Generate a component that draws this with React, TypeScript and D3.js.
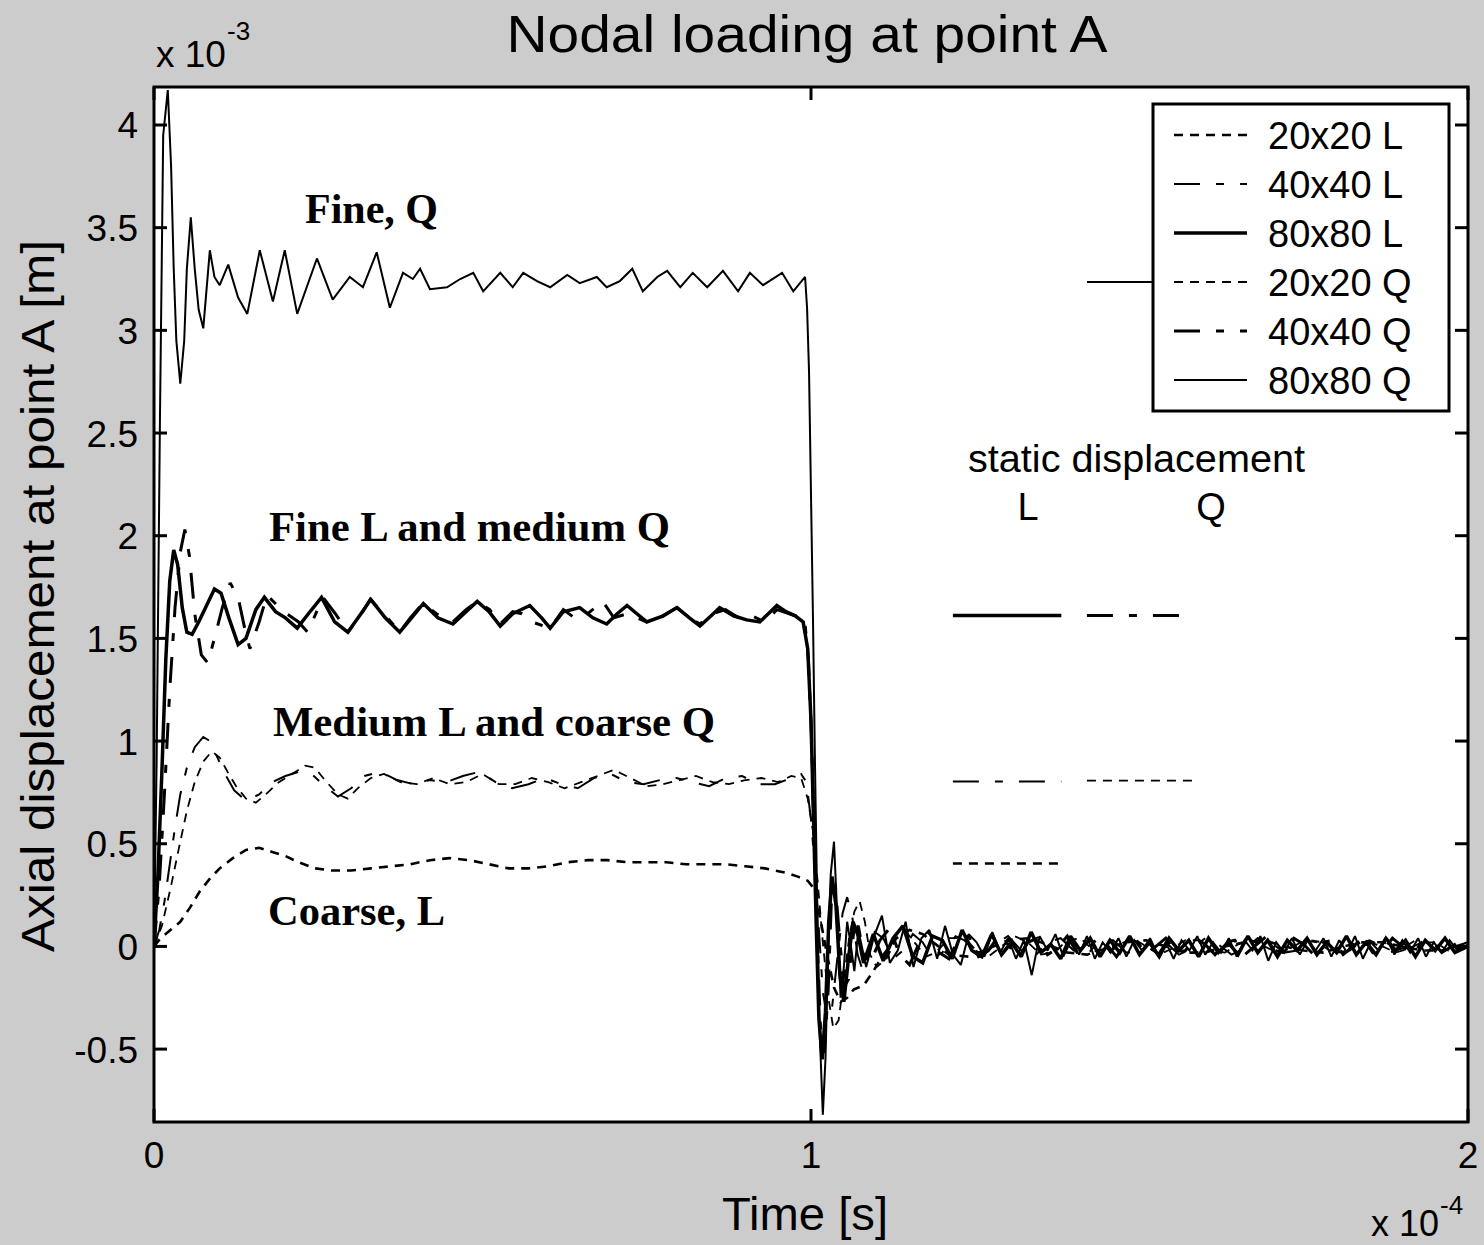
import React from "react";
import * as d3 from "d3";

type Pt = [number, number];

// ---------------- DATA ----------------
const X_DOMAIN: [number, number] = [0, 2];
const Y_DOMAIN: [number, number] = [-0.855, 4.185];
const X_TICKS = [0, 1, 2];
const X_TICK_LABELS = ["0", "1", "2"];
const Y_TICKS = [-0.5, 0, 0.5, 1, 1.5, 2, 2.5, 3, 3.5, 4];
const Y_TICK_LABELS = ["-0.5", "0", "0.5", "1", "1.5", "2", "2.5", "3", "3.5", "4"];

const SERIES_NAMES = ["20x20 L", "40x40 L", "80x80 L", "20x20 Q", "40x40 Q", "80x80 Q"];

const coarseL: Pt[] = [
  [0, 0], [0.01, 0.04], [0.025, 0.08], [0.04, 0.12], [0.055, 0.19], [0.07, 0.27], [0.085, 0.33], [0.1, 0.38],
  [0.12, 0.43], [0.14, 0.47], [0.16, 0.48], [0.18, 0.46], [0.2, 0.44], [0.22, 0.41], [0.245, 0.38], [0.27, 0.37],
  [0.3, 0.37], [0.33, 0.38], [0.36, 0.39], [0.39, 0.4], [0.42, 0.42], [0.45, 0.43], [0.48, 0.42], [0.51, 0.4],
  [0.54, 0.38], [0.57, 0.38], [0.6, 0.39], [0.63, 0.41], [0.66, 0.42], [0.69, 0.42], [0.72, 0.41], [0.75, 0.41],
  [0.78, 0.41], [0.81, 0.4], [0.84, 0.4], [0.87, 0.4], [0.9, 0.39], [0.93, 0.38], [0.96, 0.36], [0.98, 0.34],
  [0.995, 0.32], [1.005, 0.28], [1.015, 0.12], [1.025, -0.05], [1.035, -0.2], [1.045, -0.27], [1.055, -0.25],
  [1.065, -0.21], [1.08, -0.19], [1.095, -0.12], [1.11, -0.04], [1.13, 0.04], [1.15, 0.08], [1.17, 0.06],
  [1.19, 0.01], [1.21, -0.04], [1.24, -0.05], [1.27, -0.01], [1.3, 0.03], [1.33, 0.04], [1.36, 0.01],
  [1.39, -0.03], [1.42, -0.04], [1.45, -0.01], [1.48, 0.02], [1.51, 0.03], [1.54, 0.0], [1.57, -0.03],
  [1.6, -0.03], [1.63, 0.0], [1.66, 0.02], [1.69, 0.03], [1.72, 0.0], [1.75, -0.02], [1.78, -0.03], [1.81, 0.0],
  [1.84, 0.02], [1.87, 0.02], [1.9, 0.0], [1.93, -0.02], [1.96, -0.02], [2.0, 0.01],
];

const mediumL: Pt[] = [
  [0, 0], [0.008, 0.08], [0.016, 0.22], [0.024, 0.4], [0.032, 0.58], [0.04, 0.74], [0.05, 0.87], [0.062, 0.97],
  [0.075, 1.02], [0.085, 1.0], [0.095, 0.93], [0.108, 0.84], [0.122, 0.76], [0.14, 0.71], [0.16, 0.74], [0.18, 0.8],
  [0.2, 0.83], [0.22, 0.85], [0.24, 0.84], [0.26, 0.78], [0.28, 0.73], [0.3, 0.77], [0.32, 0.83], [0.345, 0.85],
  [0.37, 0.81], [0.395, 0.79], [0.42, 0.81], [0.445, 0.8], [0.47, 0.83], [0.495, 0.85], [0.52, 0.8], [0.545, 0.77],
  [0.57, 0.79], [0.595, 0.82], [0.62, 0.79], [0.645, 0.77], [0.67, 0.82], [0.695, 0.84], [0.72, 0.8], [0.745, 0.79],
  [0.77, 0.81], [0.795, 0.82], [0.82, 0.8], [0.845, 0.78], [0.87, 0.82], [0.895, 0.83], [0.92, 0.79], [0.945, 0.79],
  [0.97, 0.82], [0.985, 0.84], [0.993, 0.8], [1.0, 0.62], [1.006, 0.38], [1.012, 0.08], [1.018, -0.22],
  [1.025, -0.36], [1.032, -0.3], [1.04, -0.06], [1.048, 0.16], [1.055, 0.24], [1.063, 0.14], [1.071, -0.04],
  [1.079, -0.12], [1.088, -0.04], [1.097, 0.07], [1.11, 0.04], [1.125, -0.06], [1.14, -0.02], [1.155, 0.06],
  [1.17, 0.02], [1.185, -0.06], [1.2, -0.03], [1.22, 0.05], [1.24, 0.02], [1.26, -0.05], [1.28, 0.01], [1.3, 0.05],
  [1.32, -0.02], [1.34, -0.05], [1.36, 0.02], [1.38, 0.04], [1.4, -0.02], [1.42, -0.04], [1.44, 0.03], [1.46, 0.03],
  [1.48, -0.03], [1.5, -0.03], [1.52, 0.03], [1.54, 0.02], [1.56, -0.04], [1.58, -0.01], [1.6, 0.04], [1.62, 0.01],
  [1.64, -0.04], [1.66, -0.01], [1.68, 0.04], [1.7, 0.02], [1.72, -0.03], [1.74, -0.02], [1.76, 0.03], [1.78, 0.02],
  [1.8, -0.03], [1.82, -0.02], [1.84, 0.03], [1.86, 0.01], [1.88, -0.03], [1.9, -0.01], [1.92, 0.03], [1.94, 0.01],
  [1.96, -0.03], [1.98, 0.0], [2.0, 0.02],
];

const fineL: Pt[] = [
  [0, 0], [0.006, 0.35], [0.012, 0.85], [0.018, 1.4], [0.024, 1.78], [0.03, 1.93], [0.036, 1.86], [0.043, 1.65],
  [0.05, 1.53], [0.058, 1.52], [0.068, 1.58], [0.08, 1.66], [0.092, 1.74], [0.102, 1.72], [0.114, 1.6],
  [0.128, 1.47], [0.14, 1.5], [0.155, 1.64], [0.168, 1.7], [0.185, 1.63], [0.2, 1.6], [0.218, 1.55], [0.235, 1.62],
  [0.255, 1.7], [0.275, 1.58], [0.295, 1.53], [0.315, 1.62], [0.33, 1.69], [0.352, 1.6], [0.374, 1.53], [0.392, 1.6],
  [0.41, 1.67], [0.432, 1.6], [0.455, 1.57], [0.475, 1.63], [0.492, 1.68], [0.51, 1.63], [0.527, 1.56], [0.546, 1.62],
  [0.572, 1.66], [0.59, 1.6], [0.603, 1.55], [0.623, 1.63], [0.648, 1.65], [0.668, 1.6], [0.689, 1.57], [0.705, 1.62],
  [0.72, 1.66], [0.735, 1.62], [0.75, 1.58], [0.775, 1.61], [0.796, 1.65], [0.815, 1.6], [0.831, 1.56], [0.848, 1.61],
  [0.861, 1.65], [0.882, 1.61], [0.902, 1.59], [0.922, 1.58], [0.935, 1.62], [0.948, 1.66], [0.962, 1.63],
  [0.976, 1.61], [0.988, 1.58], [0.995, 1.45], [1.0, 1.1], [1.004, 0.6], [1.008, 0.1], [1.012, -0.35],
  [1.017, -0.55], [1.022, -0.32], [1.027, 0.12], [1.032, 0.34], [1.038, 0.2], [1.044, -0.14], [1.05, -0.27],
  [1.057, -0.06], [1.064, 0.12], [1.072, 0.05], [1.08, -0.08], [1.095, 0.06], [1.11, -0.07], [1.125, 0.04],
  [1.14, 0.1], [1.155, -0.05], [1.17, -0.08], [1.185, 0.05], [1.2, 0.03], [1.215, -0.06], [1.23, 0.08],
  [1.245, -0.02], [1.26, -0.05], [1.275, 0.06], [1.29, -0.04], [1.305, 0.02], [1.32, -0.05], [1.335, 0.07],
  [1.35, -0.03], [1.365, 0.01], [1.38, -0.06], [1.395, 0.05], [1.41, -0.02], [1.425, 0.04], [1.44, -0.05],
  [1.455, 0.03], [1.47, -0.03], [1.485, 0.05], [1.5, -0.04], [1.515, 0.02], [1.53, -0.05], [1.545, 0.04],
  [1.56, -0.02], [1.575, 0.03], [1.59, -0.05], [1.605, 0.04], [1.62, -0.03], [1.635, 0.02], [1.65, -0.04],
  [1.665, 0.05], [1.68, -0.03], [1.695, 0.03], [1.71, -0.05], [1.725, 0.03], [1.74, -0.02], [1.755, 0.04],
  [1.77, -0.04], [1.785, 0.02], [1.8, -0.03], [1.815, 0.05], [1.83, -0.04], [1.845, 0.02], [1.86, -0.04],
  [1.875, 0.04], [1.89, -0.02], [1.905, 0.03], [1.92, -0.05], [1.935, 0.03], [1.95, -0.02], [1.965, 0.04],
  [1.98, -0.03], [2.0, 0.0],
];

const coarseQ: Pt[] = [
  [0, 0], [0.012, 0.1], [0.025, 0.28], [0.038, 0.48], [0.05, 0.66], [0.062, 0.8], [0.075, 0.9], [0.088, 0.95],
  [0.1, 0.92], [0.112, 0.85], [0.125, 0.78], [0.14, 0.72], [0.155, 0.7], [0.17, 0.74], [0.19, 0.8], [0.21, 0.84],
  [0.23, 0.88], [0.245, 0.87], [0.26, 0.81], [0.28, 0.74], [0.295, 0.72], [0.31, 0.77], [0.33, 0.82], [0.35, 0.84],
  [0.375, 0.8], [0.4, 0.79], [0.425, 0.82], [0.45, 0.79], [0.475, 0.8], [0.5, 0.84], [0.525, 0.79], [0.55, 0.79],
  [0.575, 0.82], [0.6, 0.8], [0.625, 0.77], [0.65, 0.8], [0.675, 0.83], [0.7, 0.86], [0.725, 0.82], [0.75, 0.78],
  [0.775, 0.79], [0.8, 0.81], [0.825, 0.83], [0.85, 0.8], [0.875, 0.79], [0.9, 0.81], [0.925, 0.82], [0.95, 0.8],
  [0.97, 0.83], [0.985, 0.82], [0.995, 0.72], [1.003, 0.56], [1.01, 0.32], [1.018, 0.02], [1.026, -0.24],
  [1.034, -0.4], [1.042, -0.36], [1.05, -0.16], [1.058, 0.04], [1.066, 0.17], [1.074, 0.22], [1.082, 0.12],
  [1.09, -0.04], [1.1, -0.1], [1.115, -0.06], [1.13, 0.04], [1.145, 0.07], [1.16, 0.01], [1.175, -0.05],
  [1.19, -0.03], [1.21, 0.04], [1.23, 0.04], [1.25, -0.02], [1.27, -0.05], [1.29, 0.0], [1.31, 0.05], [1.33, 0.02],
  [1.35, -0.04], [1.37, -0.03], [1.39, 0.03], [1.41, 0.04], [1.43, -0.02], [1.45, -0.04], [1.47, 0.01], [1.49, 0.04],
  [1.51, 0.0], [1.53, -0.04], [1.55, -0.01], [1.57, 0.03], [1.59, 0.03], [1.61, -0.02], [1.63, -0.03], [1.65, 0.01],
  [1.67, 0.03], [1.69, 0.0], [1.71, -0.03], [1.73, -0.01], [1.75, 0.03], [1.77, 0.02], [1.79, -0.02], [1.81, -0.03],
  [1.83, 0.01], [1.85, 0.03], [1.87, 0.0], [1.89, -0.03], [1.91, -0.01], [1.93, 0.02], [1.95, 0.02], [1.97, -0.02],
  [2.0, 0.0],
];

const mediumQ: Pt[] = [
  [0, 0], [0.008, 0.3], [0.016, 0.75], [0.024, 1.25], [0.032, 1.65], [0.04, 1.92], [0.047, 2.03], [0.054, 1.9],
  [0.062, 1.62], [0.072, 1.42], [0.082, 1.38], [0.092, 1.5], [0.104, 1.65], [0.116, 1.77], [0.128, 1.7],
  [0.14, 1.52], [0.146, 1.45], [0.16, 1.58], [0.172, 1.71], [0.188, 1.66], [0.202, 1.62], [0.22, 1.58],
  [0.234, 1.53], [0.257, 1.7], [0.276, 1.62], [0.295, 1.53], [0.312, 1.6], [0.329, 1.69], [0.35, 1.62],
  [0.374, 1.53], [0.39, 1.6], [0.409, 1.67], [0.43, 1.62], [0.455, 1.58], [0.475, 1.64], [0.492, 1.68],
  [0.511, 1.64], [0.527, 1.57], [0.546, 1.63], [0.56, 1.62], [0.575, 1.58], [0.603, 1.55], [0.623, 1.64],
  [0.64, 1.6], [0.66, 1.62], [0.683, 1.68], [0.7, 1.6], [0.72, 1.62], [0.75, 1.58], [0.77, 1.6], [0.796, 1.65],
  [0.815, 1.6], [0.831, 1.57], [0.85, 1.62], [0.87, 1.64], [0.89, 1.6], [0.91, 1.61], [0.93, 1.58], [0.948, 1.64],
  [0.976, 1.61], [0.99, 1.6], [0.996, 1.4], [1.001, 1.0], [1.005, 0.5], [1.01, 0.0], [1.015, -0.45], [1.02, -0.52],
  [1.026, -0.22], [1.031, 0.22], [1.037, 0.3], [1.043, 0.06], [1.05, -0.2], [1.057, -0.16], [1.065, 0.07],
  [1.072, 0.1], [1.08, -0.04], [1.09, -0.08], [1.105, 0.03], [1.12, 0.09], [1.135, -0.04], [1.15, -0.09],
  [1.165, 0.02], [1.18, 0.07], [1.195, -0.03], [1.21, -0.06], [1.225, 0.04], [1.24, 0.05], [1.255, -0.05],
  [1.27, -0.02], [1.285, 0.05], [1.3, 0.01], [1.315, -0.06], [1.33, 0.02], [1.345, 0.04], [1.36, -0.04],
  [1.375, -0.01], [1.39, 0.05], [1.405, -0.03], [1.42, -0.03], [1.435, 0.04], [1.45, 0.01], [1.465, -0.05],
  [1.48, 0.02], [1.495, 0.03], [1.51, -0.04], [1.525, 0.0], [1.54, 0.04], [1.555, -0.03], [1.57, -0.02],
  [1.585, 0.04], [1.6, 0.01], [1.615, -0.04], [1.63, 0.02], [1.645, 0.03], [1.66, -0.04], [1.675, 0.0],
  [1.69, 0.04], [1.705, -0.02], [1.72, -0.03], [1.735, 0.04], [1.75, 0.01], [1.765, -0.04], [1.78, 0.02],
  [1.795, 0.03], [1.81, -0.04], [1.825, 0.0], [1.84, 0.04], [1.855, -0.03], [1.87, -0.02], [1.885, 0.04],
  [1.9, 0.0], [1.915, -0.04], [1.93, 0.02], [1.945, 0.03], [1.96, -0.03], [1.975, 0.0], [1.99, 0.03], [2.0, 0.01],
];

const fineQ: Pt[] = [
  [0, 0], [0.004, 0.9], [0.009, 2.55], [0.014, 3.95], [0.021, 4.17], [0.026, 3.8], [0.03, 3.3], [0.034, 2.95],
  [0.04, 2.74], [0.046, 2.95], [0.05, 3.3], [0.056, 3.55], [0.062, 3.3], [0.068, 3.1], [0.075, 3.01], [0.085, 3.39],
  [0.092, 3.26], [0.1, 3.22], [0.113, 3.32], [0.128, 3.16], [0.142, 3.08], [0.161, 3.39], [0.181, 3.14],
  [0.199, 3.39], [0.218, 3.08], [0.248, 3.35], [0.272, 3.15], [0.298, 3.26], [0.318, 3.21], [0.339, 3.38],
  [0.359, 3.11], [0.379, 3.28], [0.394, 3.25], [0.405, 3.3], [0.42, 3.2], [0.446, 3.21], [0.466, 3.25],
  [0.486, 3.28], [0.501, 3.19], [0.527, 3.28], [0.546, 3.21], [0.562, 3.28], [0.583, 3.24], [0.603, 3.21],
  [0.629, 3.27], [0.648, 3.23], [0.674, 3.26], [0.689, 3.21], [0.709, 3.24], [0.728, 3.3], [0.744, 3.19],
  [0.766, 3.26], [0.781, 3.29], [0.801, 3.21], [0.82, 3.28], [0.842, 3.21], [0.866, 3.29], [0.889, 3.19],
  [0.907, 3.28], [0.927, 3.22], [0.956, 3.28], [0.973, 3.19], [0.991, 3.26], [0.994, 3.11], [0.997, 2.8],
  [1.0, 2.2], [1.003, 1.6], [1.006, 0.9], [1.009, 0.3], [1.013, -0.4], [1.018, -0.82], [1.022, -0.55],
  [1.026, -0.05], [1.03, 0.35], [1.035, 0.51], [1.04, 0.15], [1.045, -0.25], [1.05, -0.1], [1.055, 0.12],
  [1.06, 0.02], [1.066, -0.12], [1.072, 0.08], [1.084, -0.1], [1.096, 0.05], [1.108, 0.15], [1.12, -0.08],
  [1.132, -0.02], [1.144, 0.12], [1.156, -0.1], [1.168, 0.04], [1.18, 0.08], [1.192, -0.06], [1.204, 0.1],
  [1.216, -0.04], [1.228, -0.09], [1.24, 0.06], [1.252, 0.02], [1.264, -0.05], [1.276, 0.07], [1.288, -0.03],
  [1.3, 0.04], [1.312, -0.06], [1.324, 0.03], [1.336, -0.14], [1.348, 0.05], [1.36, -0.02], [1.372, 0.06],
  [1.384, -0.05], [1.396, 0.03], [1.408, -0.04], [1.42, 0.05], [1.432, -0.06], [1.444, 0.02], [1.456, -0.03],
  [1.468, 0.04], [1.48, -0.05], [1.492, 0.03], [1.504, -0.02], [1.516, 0.04], [1.528, -0.04], [1.54, 0.02],
  [1.552, -0.06], [1.564, 0.03], [1.576, -0.02], [1.588, 0.05], [1.6, -0.04], [1.612, 0.02], [1.624, -0.03],
  [1.636, 0.04], [1.648, -0.05], [1.66, 0.03], [1.672, -0.02], [1.684, 0.05], [1.696, -0.07], [1.708, 0.02],
  [1.72, -0.03], [1.732, 0.04], [1.744, -0.04], [1.756, 0.03], [1.768, -0.02], [1.78, 0.04], [1.792, -0.05],
  [1.804, 0.03], [1.816, -0.03], [1.828, 0.05], [1.84, -0.06], [1.852, 0.02], [1.864, -0.02], [1.876, 0.04],
  [1.888, -0.04], [1.9, 0.03], [1.912, -0.03], [1.924, 0.04], [1.936, -0.05], [1.948, 0.02], [1.96, -0.03],
  [1.972, 0.03], [1.984, -0.02], [2.0, 0.01],
];

const SERIES_DATA: Pt[][] = [coarseL, mediumL, fineL, coarseQ, mediumQ, fineQ];

// static displacement values (x 10^-3 m)
const STATIC_L_NAMES = ["80x80 L", "40x40 L", "20x20 L"];
const STATIC_L_VALUES = [1.611, 0.803, 0.404];
const STATIC_Q_NAMES = ["80x80 Q", "40x40 Q", "20x20 Q"];
const STATIC_Q_VALUES = [3.236, 1.611, 0.807];
const STATIC_L_SPAN: [number, number] = [1.216, 1.381];
const STATIC_Q_SPAN: [number, number] = [1.42, 1.58];

const ANNOTATION_TEXTS = ["Fine, Q", "Fine L and medium Q", "Medium L and coarse Q", "Coarse, L"];

// ---------------- STYLE / LAYOUT ----------------
const W = 1484;
const H = 1245;
const PL = 154, PR = 1468, PT = 87, PB = 1122;
const BG = "#cccccc";
const SANS = "'Liberation Sans', Arial, Helvetica, sans-serif";
const SERIF = "'Liberation Serif', 'Times New Roman', serif";

const STYLES: Record<string, { dash: string | undefined; width: number }> = {
  "20x20 L": { dash: "9,7", width: 2.6 },
  "40x40 L": { dash: "26,16,8,16", width: 2 },
  "80x80 L": { dash: undefined, width: 3.5 },
  "20x20 Q": { dash: "9,7", width: 1.8 },
  "40x40 Q": { dash: "26,16,8,16", width: 3 },
  "80x80 Q": { dash: undefined, width: 2 },
};

// annotation anchor (left x pixel, baseline pixel) and width
const ANNOTATION_POS: { x: number; y: number; w: number }[] = [
  { x: 305, y: 223, w: 133 },
  { x: 269, y: 541, w: 401 },
  { x: 273, y: 736, w: 442 },
  { x: 268, y: 925, w: 177 },
];

export default function App() {
  const x = d3.scaleLinear().domain(X_DOMAIN).range([PL, PR]);
  const y = d3.scaleLinear().domain(Y_DOMAIN).range([PB, PT]);
  const line = d3
    .line<Pt>()
    .x((d) => x(d[0]))
    .y((d) => y(d[1]));

  const tickLen = 13;
  const legendX = 1153, legendY = 104, legendW = 296, legendH = 307;
  const legendRowY = (i: number) => 135 + i * 49;

  return (
    <svg
      width={W}
      height={H}
      style={{ position: "absolute", left: 0, top: 0, display: "block" }}
      xmlns="http://www.w3.org/2000/svg"
    >
      <defs>
        <clipPath id="plotclip">
          <rect x={PL} y={PT} width={PR - PL} height={PB - PT} />
        </clipPath>
      </defs>
      <rect x={0} y={0} width={W} height={H} fill={BG} />
      <rect x={PL} y={PT} width={PR - PL} height={PB - PT} fill="#ffffff" />

      {/* data series */}
      <g clipPath="url(#plotclip)">
        {SERIES_DATA.map((data, i) => {
          const st = STYLES[SERIES_NAMES[i]];
          return (
            <path
              key={SERIES_NAMES[i]}
              d={line(data) || ""}
              fill="none"
              stroke="#000"
              strokeWidth={st.width}
              strokeDasharray={st.dash}
              strokeLinejoin="miter"
              strokeMiterlimit={2}
            />
          );
        })}
        {/* static displacement segments */}
        {STATIC_L_VALUES.map((v, i) => {
          const st = STYLES[STATIC_L_NAMES[i]];
          return (
            <path
              key={"sl" + i}
              d={line([[STATIC_L_SPAN[0], v], [STATIC_L_SPAN[1], v]]) || ""}
              stroke="#000"
              fill="none"
              strokeWidth={st.width}
              strokeDasharray={st.dash}
            />
          );
        })}
        {STATIC_Q_VALUES.map((v, i) => {
          const st = STYLES[STATIC_Q_NAMES[i]];
          return (
            <path
              key={"sq" + i}
              d={line([[STATIC_Q_SPAN[0], v], [STATIC_Q_SPAN[1], v]]) || ""}
              stroke="#000"
              fill="none"
              strokeWidth={st.width}
              strokeDasharray={st.dash}
            />
          );
        })}
      </g>

      {/* annotations */}
      {ANNOTATION_TEXTS.map((t, i) => (
        <text
          key={t}
          x={ANNOTATION_POS[i].x}
          y={ANNOTATION_POS[i].y}
          fontFamily={SERIF}
          fontWeight="bold"
          fontSize={42}
          textLength={ANNOTATION_POS[i].w}
          lengthAdjust="spacingAndGlyphs"
          fill="#000"
        >
          {t}
        </text>
      ))}

      {/* static displacement label */}
      <text x={968} y={472} fontFamily={SANS} fontSize={38} textLength={337} lengthAdjust="spacingAndGlyphs">
        static displacement
      </text>
      <text x={1028} y={520} fontFamily={SANS} fontSize={38} textAnchor="middle">
        L
      </text>
      <text x={1211} y={520} fontFamily={SANS} fontSize={38} textAnchor="middle">
        Q
      </text>

      {/* ticks */}
      {Y_TICKS.map((v) => (
        <g key={"yt" + v}>
          <line x1={PL} x2={PL + tickLen} y1={y(v)} y2={y(v)} stroke="#000" strokeWidth={3} />
          <line x1={PR} x2={PR - tickLen} y1={y(v)} y2={y(v)} stroke="#000" strokeWidth={3} />
        </g>
      ))}
      {X_TICKS.map((v) => (
        <g key={"xt" + v}>
          <line x1={x(v)} x2={x(v)} y1={PB} y2={PB - tickLen} stroke="#000" strokeWidth={3} />
          <line x1={x(v)} x2={x(v)} y1={PT} y2={PT + tickLen} stroke="#000" strokeWidth={3} />
        </g>
      ))}

      {/* legend */}
      <rect x={legendX} y={legendY} width={legendW} height={legendH} fill="#fff" stroke="#000" strokeWidth={3} />
      {SERIES_NAMES.map((name, i) => {
        const st = STYLES[name];
        const ly = legendRowY(i);
        return (
          <g key={"lg" + name}>
            <line x1={1174} x2={1247} y1={ly} y2={ly} stroke="#000" strokeWidth={st.width} strokeDasharray={st.dash} />
            <text x={1268} y={ly + 14} fontFamily={SANS} fontSize={38}>
              {name}
            </text>
          </g>
        );
      })}

      {/* plot frame */}
      <rect x={PL} y={PT} width={PR - PL} height={PB - PT} fill="none" stroke="#000" strokeWidth={3} />

      {/* tick labels */}
      {Y_TICKS.map((v, i) => (
        <text key={"yl" + v} x={138} y={y(v) + 13.5} textAnchor="end" fontFamily={SANS} fontSize={37}>
          {Y_TICK_LABELS[i]}
        </text>
      ))}
      {X_TICKS.map((v, i) => (
        <text key={"xl" + v} x={x(v)} y={1168} textAnchor="middle" fontFamily={SANS} fontSize={37}>
          {X_TICK_LABELS[i]}
        </text>
      ))}

      {/* exponents */}
      <text x={156} y={67} fontFamily={SANS} fontSize={37}>x 10</text>
      <text x={227} y={40} fontFamily={SANS} fontSize={26}>-3</text>
      <text x={1371} y={1236} fontFamily={SANS} fontSize={36}>x 10</text>
      <text x={1440} y={1214} fontFamily={SANS} fontSize={26}>-4</text>

      {/* title and axis labels */}
      <text x={807} y={52} textAnchor="middle" fontFamily={SANS} fontSize={52} textLength={601} lengthAdjust="spacingAndGlyphs">
        Nodal loading at point A
      </text>
      <text x={805} y={1230} textAnchor="middle" fontFamily={SANS} fontSize={46} textLength={166} lengthAdjust="spacingAndGlyphs">
        Time [s]
      </text>
      <text
        transform={`translate(54, 596) rotate(-90)`}
        textAnchor="middle"
        fontFamily={SANS}
        fontSize={46}
        textLength={712}
        lengthAdjust="spacingAndGlyphs"
      >
        Axial displacement at point A  [m]
      </text>
    </svg>
  );
}
